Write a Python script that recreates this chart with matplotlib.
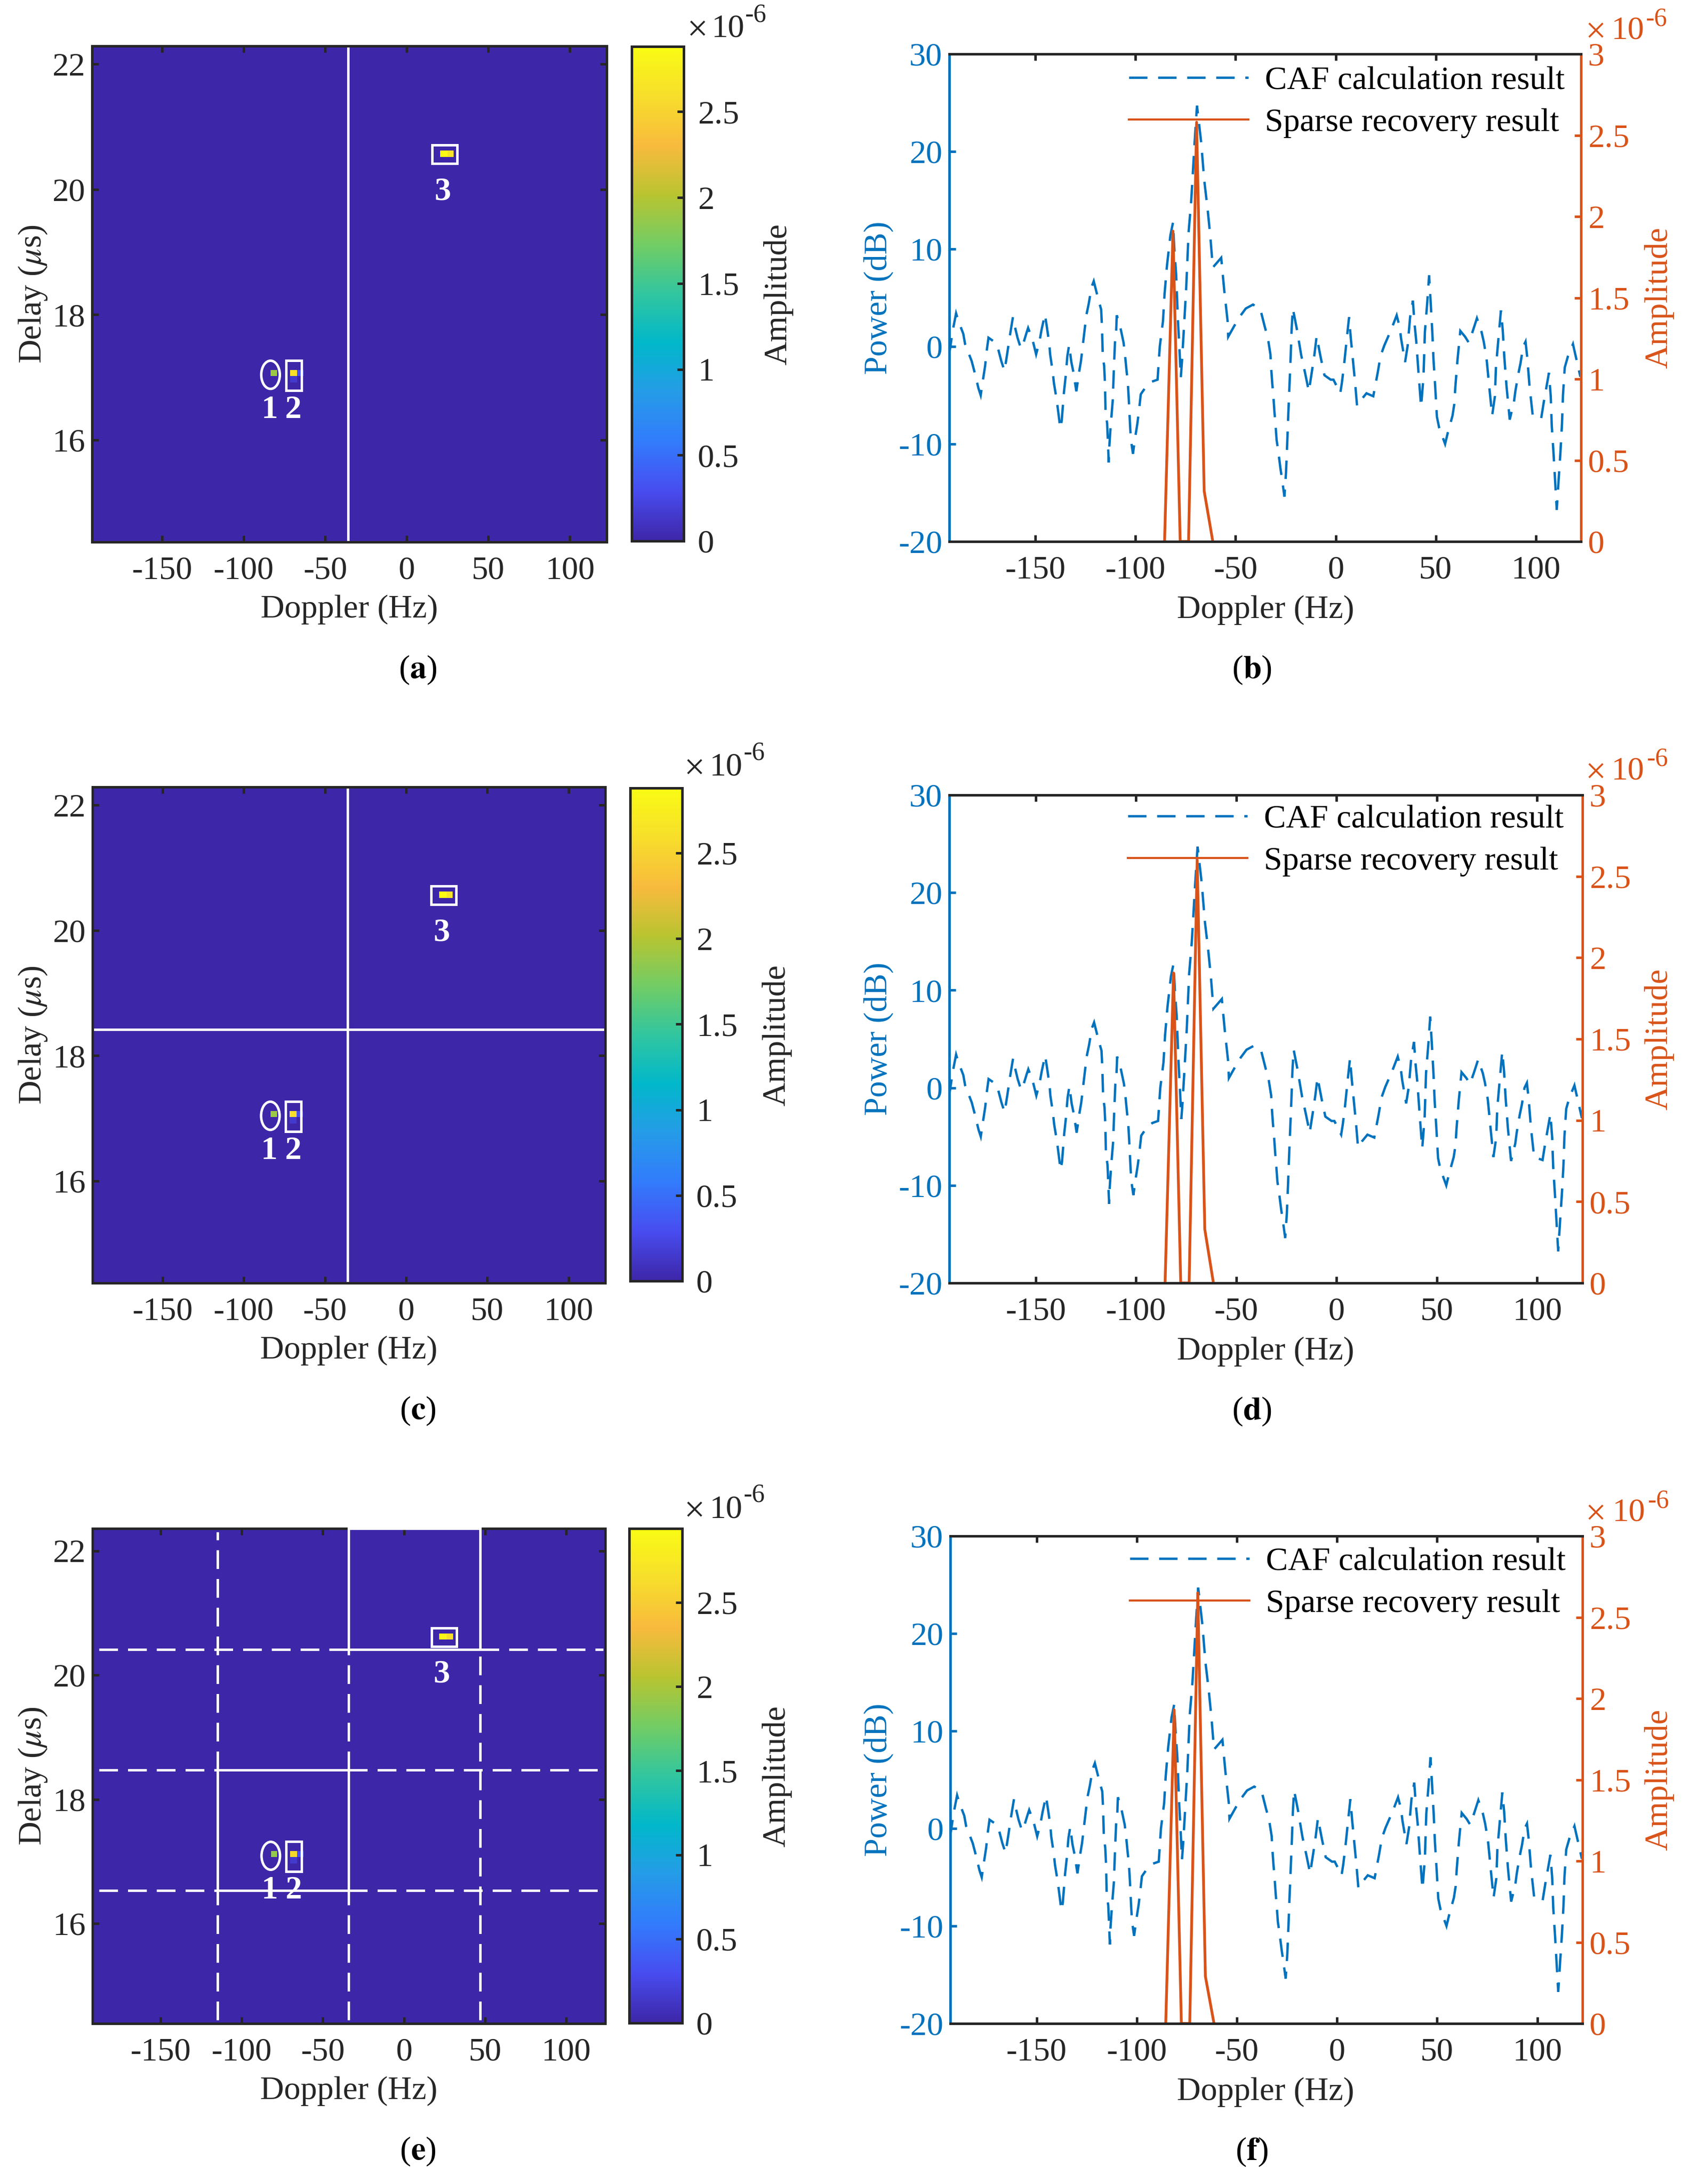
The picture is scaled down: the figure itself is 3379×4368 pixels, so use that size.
"""Delay-Doppler maps and Doppler cuts, six panels."""
import matplotlib
matplotlib.use("Agg")
import matplotlib.pyplot as plt
import numpy as np
from matplotlib.colors import LinearSegmentedColormap
from matplotlib.patches import Ellipse, Rectangle

plt.rcParams["font.family"] = ["Liberation Serif", "DejaVu Serif"]
plt.rcParams["mathtext.fontset"] = "stix"

W, H = 3379, 4368
FS = 47.6
LW = 3.6
DARK = "#262626"
BLUE = "#0072BD"
RED = "#D95319"

parula = LinearSegmentedColormap.from_list("parula", [
    (0.2422, 0.1504, 0.6603), (0.2813, 0.3006, 0.9414), (0.1963, 0.4847, 0.9892),
    (0.1460, 0.6091, 0.9079), (0.0036, 0.7203, 0.7917), (0.1938, 0.7758, 0.6251),
    (0.4456, 0.8024, 0.3909), (0.7242, 0.7698, 0.1910), (0.9728, 0.7298, 0.2394),
    (0.9676, 0.8691, 0.1696), (0.9769, 0.9839, 0.0805)])

doppler_lim = (-193.1, 122.6)
delay_lim = (14.37, 22.29)
doppler_lim_e = (-192.0, 124.1)
delay_lim_e = (14.39, 22.36)
doppler_ticks = [-150, -100, -50, 0, 50, 100]
doppler_tick_labels = ["-150", "-100", "-50", "0", "50", "100"]
delay_ticks = [16, 18, 20, 22]
power_ticks = [-20, -10, 0, 10, 20, 30]
power_tick_labels = ["-20", "-10", "0", "10", "20", "30"]
amp_ticks = [0, 0.5, 1, 1.5, 2, 2.5, 3]
amp_tick_labels = ["0", "0.5", "1", "1.5", "2", "2.5", "3"]
cbar_ticks = [0, 0.5, 1, 1.5, 2, 2.5]
cbar_tick_labels = ["0", "0.5", "1", "1.5", "2", "2.5"]

# recovered cells: doppler edges, delay edges, amplitude (x 1e-6)
cell_doppler_left = [-83.5, -71.6, -67.4, -71.6, 20.3, 24.9]
cell_doppler_right = [-79.6, -67.4, -63.4, -67.4, 24.9, 28.7]
cell_delay_low = [17.02, 17.02, 17.02, 16.92, 20.52, 20.52]
cell_delay_high = [17.12, 17.12, 17.12, 17.02, 20.62, 20.62]
cell_amp = [1.9, 2.6, 0.3, 0.15, 2.88, 2.65]

cbar_max = {"a": 2.88, "c": 2.88, "e": 2.94}

# CAF cut along Doppler
caf_doppler = [
    -193.3, -191.4, -189.7, -188.6, -186.1, -185.2, -181.9, -180.5, -178.5, -177.4,
    -176.1, -175.2, -174.3, -173.5, -170.7, -169.0, -167.1, -165.5, -164.2, -162.9,
    -161.3, -160.4, -159.0, -157.3, -156.2, -154.5, -153.7, -151.5, -149.7, -148.0,
    -147.0, -145.3, -144.4, -143.1, -142.7, -141.4, -140.8, -139.4, -137.6, -136.9,
    -135.8, -134.9, -134.1, -133.2, -132.1, -131.0, -129.6, -128.2, -127.3, -126.3,
    -125.6, -124.6, -123.4, -122.0, -120.9, -118.7, -117.2, -116.8, -116.4, -115.7,
    -115.3, -115.0, -114.2, -113.4, -113.1, -112.5, -111.4, -110.9, -110.3, -109.7,
    -109.4, -107.8, -106.0, -105.3, -104.5, -103.9, -103.4, -102.7, -102.3, -101.3,
    -100.4, -99.1, -98.3, -97.4, -94.4, -91.8, -89.0, -87.9, -86.3, -85.5,
    -84.3, -82.6, -81.3, -80.6, -79.7, -78.8, -78.0, -77.4, -76.8, -76.0,
    -74.7, -73.5, -72.2, -71.4, -70.5, -69.3, -67.2, -65.7, -64.0, -62.6,
    -61.4, -57.2, -55.7, -54.0, -53.7, -50.7, -47.8, -44.9, -41.3, -37.6,
    -35.4, -33.9, -32.6, -32.3, -31.7, -31.2, -30.6, -30.1, -29.5, -28.7,
    -27.6, -26.8, -25.6, -24.8, -24.2, -23.7, -23.1, -22.5, -22.0, -21.4,
    -19.5, -18.1, -17.2, -15.3, -13.4, -11.9, -10.6, -9.5, -7.5, -5.6,
    -2.5, -1.1, 2.3, 3.1, 4.2, 5.6, 6.7, 7.6, 8.4, 9.8,
    10.7, 12.6, 15.4, 18.8, 19.9, 21.0, 22.4, 24.3, 27.7, 30.5,
    32.0, 32.7, 34.7, 36.0, 37.2, 38.6, 39.4, 40.3, 41.3, 42.7,
    43.9, 44.6, 45.8, 46.7, 47.5, 48.3, 48.9, 49.8, 50.6, 51.7,
    54.7, 56.1, 58.4, 59.3, 59.8, 60.9, 62.3, 64.7, 66.5, 68.4,
    70.6, 72.9, 74.0, 75.4, 76.8, 78.2, 79.6, 80.1, 81.3, 82.6,
    83.5, 84.3, 85.4, 87.0, 89.1, 89.8, 91.3, 92.4, 93.7, 94.9,
    95.8, 96.9, 98.5, 102.7, 104.1, 106.6, 107.5, 108.0, 108.9, 110.5,
    111.4, 112.3, 113.1, 113.6, 114.5, 116.1, 118.6, 120.3, 122.3]
caf_power = [
    -1.0, 1.6, 3.4, 2.65, 1.3, 0.25, -1.5, -2.6, -4.3, -5.0,
    -3.2, -2.0, -0.3, 0.9, 0.5, 0.0, -1.5, -2.5, -0.8, 1.0,
    3.0, 2.1, 0.9, -0.2, 0.25, 1.4, 1.9, 0.7, -0.8, 0.55,
    1.7, 3.3, 2.1, 0.25, -0.8, -2.6, -3.75, -5.5, -8.4, -7.6,
    -4.7, -3.0, -1.0, 0.15, -1.6, -2.7, -4.6, -2.6, -1.5, 0.25,
    1.5, 3.2, 4.4, 6.1, 6.7, 4.9, 3.8, 2.1, -0.9, -2.0,
    -3.75, -6.7, -7.9, -11.9, -10.2, -8.3, -5.5, -2.6, 0.4, 1.5,
    3.2, 2.15, 0.4, -0.8, -2.5, -3.6, -5.4, -8.3, -9.6, -11.0,
    -9.6, -7.9, -6.6, -4.9, -4.0, -3.6, -3.4, 0.0, 2.6, 5.4,
    8.3, 11.4, 12.7, 9.9, 7.3, 2.6, -0.5, -3.2, -1.5, 1.3,
    6.0, 11.7, 14.9, 17.7, 20.9, 24.7, 20.9, 17.1, 14.1, 11.2,
    8.1, 9.1, 5.8, 2.6, 1.0, 2.1, 3.1, 3.9, 4.3, 3.8,
    2.0, 0.9, -0.8, -2.0, -3.75, -4.9, -6.7, -7.9, -9.6, -10.7,
    -12.5, -13.6, -15.4, -12.9, -9.9, -7.1, -4.1, -1.1, 1.8, 3.9,
    1.9, 0.2, -0.9, -2.7, -4.6, -2.6, -0.8, 1.05, -1.1, -2.95,
    -3.4, -3.4, -4.8, -3.75, -1.9, 0.9, 3.0, 0.8, -0.9, -3.9,
    -6.1, -5.5, -4.8, -5.1, -3.9, -2.7, -1.0, 0.1, 1.7, 3.2,
    2.0, 0.8, -1.6, 0.1, 3.0, 4.7, 2.4, 0.5, -2.4, -6.2,
    -3.1, 1.5, 4.6, 7.3, 4.5, 1.5, -1.35, -4.3, -7.2, -8.3,
    -10.0, -8.8, -7.1, -5.9, -4.2, -1.35, 1.6, 1.0, 0.4, 1.5,
    2.9, 1.5, 0.5, -1.2, -4.2, -7.1, -5.1, -2.15, 0.7, 3.7,
    1.7, -1.1, -4.1, -7.5, -5.7, -4.6, -2.8, -1.7, 0.0, 0.5,
    -1.2, -4.1, -7.1, -7.4, -5.6, -2.7, -5.1, -8.1, -11.0, -16.75,
    -13.8, -11.0, -8.0, -5.0, -2.15, -1.0, 0.25, -1.3, -3.1]

sparse_doppler = [-85.5, -81.3, -77.7, -73.5, -69.5, -65.7, -61.4]
sparse_amp = {
    "b": [0, 1.91, 0, 0, 2.58, 0.31, 0],
    "d": [0, 1.906, 0, 0, 2.6, 0.33, 0],
    "f": [0, 1.93, 0, 0, 2.65, 0.29, 0],
}

# white partition lines: (fixed position, start, end)
v_lines_a = [(-36.0, 14.37, 22.29)]
h_lines_c = [(18.42, -192.5, 121.5)]
solid_v_e = [(-115.0, 16.53, 18.47), (-34.0, 16.53, 18.47), (-34.0, 20.41, 22.36), (47.0, 20.41, 22.36)]
dashed_v_e = [(-115.0, 14.45, 16.53), (-115.0, 18.47, 22.3), (-34.0, 14.45, 16.53),
              (-34.0, 18.47, 20.41), (47.0, 14.45, 20.41)]
solid_h_e = [(20.41, -34.0, 47.0), (18.47, -115.0, -34.0), (16.53, -115.0, -34.0), (22.36, -34.0, 47.0)]
dashed_h_e = [(20.41, -188, -34.0), (20.41, 47.0, 123), (18.47, -188, -115.0), (18.47, -34.0, 123),
              (16.53, -188, -115.0), (16.53, -34.0, 123)]

legend_labels = ["CAF calculation result", "Sparse recovery result"]

fig = plt.figure(figsize=(W / 100, H / 100), dpi=100)


def px_axes(left, top, right, bottom):
    return fig.add_axes([left / W, 1 - bottom / H, (right - left) / W, (bottom - top) / H])


def px_text(x, y, s, **kw):
    kw.setdefault("fontsize", FS)
    kw.setdefault("ha", "center")
    kw.setdefault("va", "center")
    kw.setdefault("color", DARK)
    return fig.text(x / W, 1 - y / H, s, **kw)


def exponent(x_times, x_ten, x_sup, y_ten, y_sup, color):
    px_text(x_times, y_ten + 6, "\u00d7", color=color, ha="left", fontsize=FS * 1.12)
    px_text(x_ten, y_ten, "10", color=color, ha="left")
    px_text(x_sup + 3, y_sup, "-6", color=color, ha="left", fontsize=FS * 0.78)


def white_v(ax, lines, **kw):
    for x, y0, y1 in lines:
        ax.plot([x, x], [y0, y1], color="white", lw=3.6, **kw)


def white_h(ax, lines, **kw):
    for y, x0, x1 in lines:
        ax.plot([x0, x1], [y, y], color="white", lw=3.6, **kw)


def heat_panel(key, box, cbox, exp_pos, xlim=doppler_lim, ylim=delay_lim, dx=0.0, dy=0.0):
    left, top, right, bottom = box
    ax = px_axes(*box)
    ax.set_facecolor(parula(0.0))
    mesh = None
    for x0, x1, y0, y1, a in zip(cell_doppler_left, cell_doppler_right,
                                 cell_delay_low, cell_delay_high, cell_amp):
        mesh = ax.pcolormesh([x0 + dx, x1 + dx], [y0 + dy, y1 + dy], [[a]], cmap=parula,
                             vmin=0, vmax=cbar_max[key], zorder=1)
    ax.set_xlim(xlim)
    ax.set_ylim(ylim)
    ax.set_xticks(doppler_ticks, doppler_tick_labels)
    ax.set_yticks(delay_ticks, [str(t) for t in delay_ticks])
    ax.tick_params(axis="x", direction="in", top=True, length=9.4, width=LW,
                   labelsize=FS, pad=20, colors=DARK)
    ax.tick_params(axis="y", direction="in", right=True, length=9.4, width=LW,
                   labelsize=FS, pad=10, colors=DARK)
    for sp in ax.spines.values():
        sp.set_linewidth(LW)
        sp.set_color(DARK)

    # marks around the three targets
    ax.add_patch(Ellipse((-83.6 + dx, 17.04 + dy), 11.4, 0.45, fill=False, ec="white", lw=3.6, zorder=3))
    ax.add_patch(Rectangle((-74.2 + dx, 16.79 + dy), 9.6, 0.48, fill=False, ec="white", lw=3.6, zorder=3))
    ax.add_patch(Rectangle((15.5 + dx, 20.41 + dy), 15.4, 0.30, fill=False, ec="white", lw=3.6, zorder=3))
    for x, y, s in [(-84.2, 16.48, "1"), (-69.7, 16.48, "2"), (21.8, 19.96, "3")]:
        ax.text(x + dx, y + dy, s, color="white", fontsize=FS, fontweight="bold",
                ha="center", va="center", zorder=4)

    cax = px_axes(*cbox)
    cb = fig.colorbar(mesh, cax=cax)
    cb.set_ticks(cbar_ticks, labels=cbar_tick_labels)
    cax.tick_params(direction="in", length=9.4, width=LW, labelsize=FS, pad=20, colors=DARK)
    cb.outline.set_linewidth(LW)
    cb.outline.set_edgecolor(DARK)

    mid = (top + bottom) / 2
    px_text((left + right) / 2, bottom + 135, "Doppler (Hz)")
    px_text(66, mid, "Delay ($\\mu$s)", rotation=90)
    px_text(cbox[2] + 189, mid, "Amplitude", rotation=90)
    px_text(835, bottom + 256, f"($\\mathbf{{{key}}}$)", color="black")
    exponent(*exp_pos, DARK)
    return ax


def cut_panel(key, box, legend_left, legend_mid, exp_pos):
    left, top, right, bottom = box
    ax = px_axes(*box)
    ax.plot(caf_doppler, caf_power, color=BLUE, lw=3.4, dashes=(7.8, 4.5),
            dash_capstyle="butt", dash_joinstyle="miter", label=legend_labels[0])
    ax.set_xlim(doppler_lim)
    ax.set_ylim(-20, 30)
    ax.set_xticks(doppler_ticks, doppler_tick_labels)
    ax.set_yticks(power_ticks, power_tick_labels)
    ax.tick_params(axis="x", direction="in", top=True, length=9.4, width=LW,
                   labelsize=FS, pad=20, colors=DARK)
    ax.tick_params(axis="y", direction="in", length=9.4, width=LW, labelsize=FS,
                   pad=10, colors=BLUE)

    ax2 = ax.twinx()
    ax2.plot(sparse_doppler, sparse_amp[key], color=RED, lw=4.0, label=legend_labels[1])
    ax2.set_ylim(0, 3)
    ax2.set_yticks(amp_ticks, amp_tick_labels)
    ax2.tick_params(axis="y", direction="in", length=9.4, width=LW, labelsize=FS,
                    pad=10, colors=RED)
    for a in (ax, ax2):
        for name, sp in a.spines.items():
            sp.set_linewidth(LW)
            sp.set_color({"left": BLUE, "right": RED}.get(name, DARK))

    handles = ax.get_lines() + ax2.get_lines()
    leg = ax2.legend(handles, legend_labels, loc="center left",
                     bbox_to_anchor=((legend_left - left) / (right - left),
                                     (bottom - legend_mid) / (bottom - top)),
                     frameon=False, fontsize=FS, borderpad=0, borderaxespad=0,
                     handlelength=3.62, handletextpad=0.5, labelspacing=0.36)
    for text in leg.get_texts():
        text.set_color("black")
    leg.get_lines()[1].set_linewidth(3.0)

    mid = (top + bottom) / 2
    px_text(2530, bottom + 137, "Doppler (Hz)")
    px_text(1757, mid, "Power (dB)", rotation=90, color=BLUE)
    px_text(3317, mid, "Amplitude", rotation=90, color=RED)
    px_text(2503, bottom + 257, f"($\\mathbf{{{key}}}$)", color="black")
    exponent(*exp_pos, RED)


ax_a = heat_panel("a", (184, 92, 1213, 1084), (1263, 93, 1367, 1082), (1373, 1422, 1486, 58, 30))
white_v(ax_a, v_lines_a, zorder=2)

ax_c = heat_panel("c", (185, 1574, 1210, 2566), (1260, 1576, 1364, 2562), (1367, 1418, 1483, 1535, 1507))
white_v(ax_c, v_lines_a, zorder=2)
white_h(ax_c, h_lines_c, zorder=2)

ax_e = heat_panel("e", (185, 3057, 1210, 4047), (1258, 3057, 1364, 4046), (1367, 1418, 1483, 3020, 2990),
                  xlim=doppler_lim_e, ylim=delay_lim_e, dx=1.5, dy=0.05)
white_v(ax_e, solid_v_e, zorder=2)
white_h(ax_e, solid_h_e, zorder=6, clip_on=False)
white_v(ax_e, dashed_v_e, zorder=2, dashes=(7.5, 4), dash_capstyle="butt")
white_h(ax_e, dashed_h_e, zorder=2, dashes=(7.5, 4), dash_capstyle="butt")
ax_e.set_xlim(doppler_lim_e)
ax_e.set_ylim(delay_lim_e)

cut_panel("b", (1898, 108, 3161, 1083), 2257, 204, (3169, 3221, 3287, 62, 38))
cut_panel("d", (1898, 1590, 3164, 2566), 2255, 1681, (3169, 3221, 3289, 1543, 1519))
cut_panel("f", (1900, 3072, 3164, 4047), 2259, 3166, (3169, 3223, 3291, 3026, 3002))

fig.savefig("out.png", dpi=100, facecolor="white")
plt.close(fig)
